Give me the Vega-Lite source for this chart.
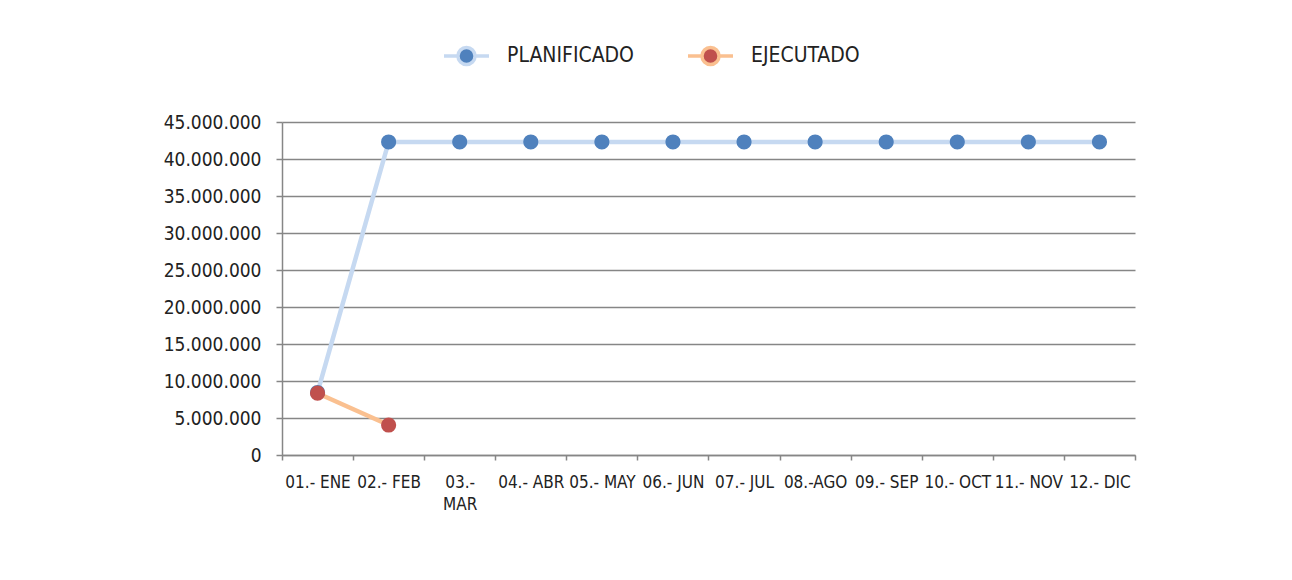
{
  "$schema": "https://vega.github.io/schema/vega-lite/v6.json",
  "width": 853,
  "height": 333,
  "autosize": "none",
  "padding": {"left": 282, "top": 122, "right": 157, "bottom": 125},
  "background": "white",
  "config": {
    "locale": {"number": {"decimal": ",", "thousands": ".", "grouping": [3], "currency": ["", " €"]}},
    "font": "Liberation Sans Narrow, DejaVu Sans Condensed, sans-serif",
    "view": {"stroke": null}
  },
  "data": {
    "values": [
      {"mes": "01.- ENE", "serie": "PLANIFICADO", "valor": 8450000},
      {"mes": "02.- FEB", "serie": "PLANIFICADO", "valor": 42300000},
      {"mes": "03.- MAR", "serie": "PLANIFICADO", "valor": 42300000},
      {"mes": "04.- ABR", "serie": "PLANIFICADO", "valor": 42300000},
      {"mes": "05.- MAY", "serie": "PLANIFICADO", "valor": 42300000},
      {"mes": "06.- JUN", "serie": "PLANIFICADO", "valor": 42300000},
      {"mes": "07.- JUL", "serie": "PLANIFICADO", "valor": 42300000},
      {"mes": "08.-AGO", "serie": "PLANIFICADO", "valor": 42300000},
      {"mes": "09.- SEP", "serie": "PLANIFICADO", "valor": 42300000},
      {"mes": "10.- OCT", "serie": "PLANIFICADO", "valor": 42300000},
      {"mes": "11.- NOV", "serie": "PLANIFICADO", "valor": 42300000},
      {"mes": "12.- DIC", "serie": "PLANIFICADO", "valor": 42300000},
      {"mes": "01.- ENE", "serie": "EJECUTADO", "valor": 8350000},
      {"mes": "02.- FEB", "serie": "EJECUTADO", "valor": 4050000}
    ]
  },
  "encoding": {
    "x": {
      "field": "mes",
      "type": "ordinal",
      "sort": null,
      "title": null,
      "scale": {"type": "band", "paddingInner": 0, "paddingOuter": 0},
      "axis": {
        "labelAngle": 0,
        "labelOverlap": false,
        "labelBound": false,
        "labelFontSize": 17,
        "labelColor": "#222222",
        "labelPadding": 14,
        "labelLineHeight": 22,
        "labelExpr": "datum.label == '03.- MAR' ? ['03.-', 'MAR'] : datum.label",
        "tickBand": "extent",
        "tickSize": 5,
        "tickColor": "#868686",
        "tickWidth": 1.5,
        "domainColor": "#868686",
        "domainWidth": 1.5,
        "grid": false
      }
    },
    "y": {
      "field": "valor",
      "type": "quantitative",
      "title": null,
      "scale": {"domain": [0, 45000000], "nice": false},
      "axis": {
        "values": [0, 5000000, 10000000, 15000000, 20000000, 25000000, 30000000, 35000000, 40000000, 45000000],
        "format": ",d",
        "labelFontSize": 19,
        "labelColor": "#222222",
        "labelPadding": 15,
        "tickSize": 6,
        "tickColor": "#868686",
        "tickWidth": 1.5,
        "domainColor": "#868686",
        "domainWidth": 1.5,
        "gridColor": "#868686",
        "gridWidth": 1.5
      }
    }
  },
  "layer": [
    {
      "mark": {"type": "line", "strokeWidth": 4.5},
      "encoding": {
        "stroke": {
          "field": "serie",
          "type": "nominal",
          "sort": ["PLANIFICADO", "EJECUTADO"],
          "scale": {"domain": ["PLANIFICADO", "EJECUTADO"], "range": ["#C6D9F1", "#FAC090"]},
          "legend": {
            "orient": "none",
            "direction": "horizontal",
            "legendX": 160,
            "legendY": -91,
            "title": null,
            "symbolType": "M-1,0L-0.38,0M0.38,0L1,0M-0.38,0A0.38,0.38 0 1,1 0.38,0A0.38,0.38 0 1,1 -0.38,0Z",
            "symbolSize": 2025,
            "symbolStrokeWidth": 3.5,
            "labelFontSize": 21,
            "labelColor": "#222222",
            "labelOffset": 16,
            "columnPadding": 47
          }
        }
      }
    },
    {
      "mark": {"type": "point", "filled": true, "size": 230, "strokeWidth": 0, "opacity": 1},
      "encoding": {
        "fill": {
          "field": "serie",
          "type": "nominal",
          "sort": ["PLANIFICADO", "EJECUTADO"],
          "scale": {"domain": ["PLANIFICADO", "EJECUTADO"], "range": ["#4F81BD", "#C0504D"]},
          "legend": {
            "orient": "none",
            "direction": "horizontal",
            "legendX": 160,
            "legendY": -91,
            "title": null,
            "symbolType": "M-1,0L-0.38,0M0.38,0L1,0M-0.38,0A0.38,0.38 0 1,1 0.38,0A0.38,0.38 0 1,1 -0.38,0Z",
            "symbolSize": 2025,
            "symbolStrokeWidth": 3.5,
            "labelFontSize": 21,
            "labelColor": "#222222",
            "labelOffset": 16,
            "columnPadding": 47
          }
        },
        "order": {"field": "serie", "sort": "descending"}
      }
    }
  ]
}
